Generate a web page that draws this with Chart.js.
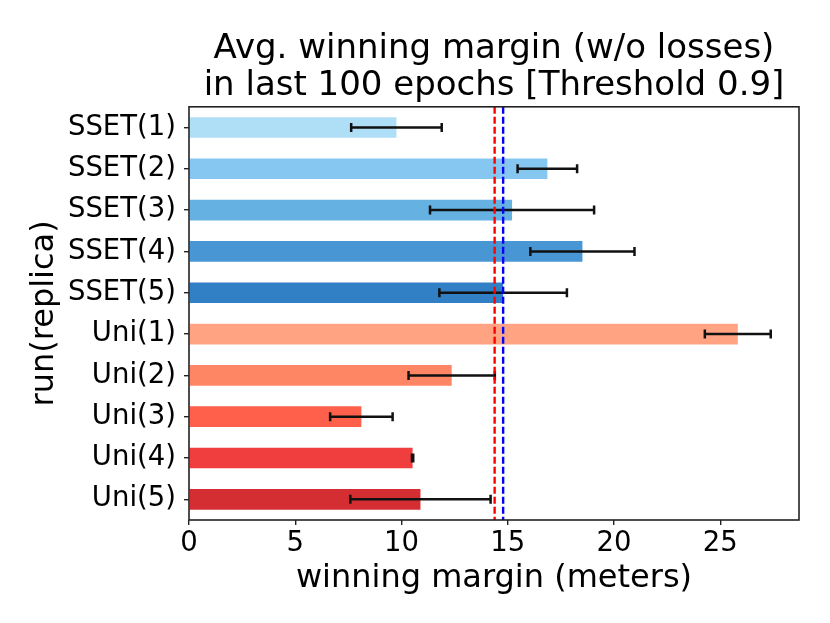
<!DOCTYPE html>
<html>
<head>
<meta charset="utf-8">
<script src="https://cdn.jsdelivr.net/npm/chart.js@4"></script>
<style>
  html, body { margin: 0; padding: 0; background: #fff; }
  #wrap { width: 830px; height: 623px; }
</style>
</head>
<body>
<div id="wrap"><canvas id="chart"></canvas></div>
<script>
// runs (top to bottom)
const runs = ['SSET(1)', 'SSET(2)', 'SSET(3)', 'SSET(4)', 'SSET(5)',
              'Uni(1)', 'Uni(2)', 'Uni(3)', 'Uni(4)', 'Uni(5)'];
// average winning margin and its error
const margins = [9.76, 16.86, 15.2, 18.51, 14.78, 25.82, 12.36, 8.11, 10.52, 10.89];
const errors = [2.13, 1.4, 3.86, 2.45, 3.0, 1.55, 2.03, 1.47, 0.03, 3.3];
const barColors = ['#aedff7', '#85c7f0', '#65b1e2', '#4896d4', '#317fc5',
                   '#ffa383', '#ff8664', '#ff604b', '#f03e3e', '#d52e32'];
// vertical reference lines
const refLines = [
  { value: 14.38, color: '#ff0000' },
  { value: 14.78, color: '#0000ff' }
];
const xTicks = [0, 5, 10, 15, 20, 25];
const xMax = 28.7;

const FONT = "'DejaVu Sans', sans-serif";

// error bars + dashed lines + frame
const overlay = {
  id: 'overlay',
  afterDatasetsDraw(chart) {
    const { ctx, chartArea } = chart;
    const x = chart.scales.x;
    const y = chart.scales.y;

    ctx.save();
    ctx.strokeStyle = '#111';
    ctx.lineWidth = 2.5;
    margins.forEach((m, i) => {
      const py = y.getPixelForValue(i);
      const x1 = x.getPixelForValue(m - errors[i]);
      const x2 = x.getPixelForValue(m + errors[i]);
      ctx.beginPath();
      ctx.moveTo(x1, py);
      ctx.lineTo(x2, py);
      ctx.moveTo(x1, py - 4.5);
      ctx.lineTo(x1, py + 4.5);
      ctx.moveTo(x2, py - 4.5);
      ctx.lineTo(x2, py + 4.5);
      ctx.stroke();
    });

    ctx.lineWidth = 2.4;
    ctx.setLineDash([7, 3]);
    refLines.forEach(l => {
      const px = x.getPixelForValue(l.value);
      ctx.strokeStyle = l.color;
      ctx.beginPath();
      ctx.moveTo(px, chartArea.top);
      ctx.lineTo(px, chartArea.bottom);
      ctx.stroke();
    });
    ctx.setLineDash([]);

    ctx.strokeStyle = '#222';
    ctx.lineWidth = 1.6;
    ctx.strokeRect(chartArea.left, chartArea.top,
                   chartArea.right - chartArea.left, chartArea.bottom - chartArea.top);
    ctx.restore();
  }
};

new Chart(document.getElementById('chart'), {
  type: 'bar',
  data: {
    labels: runs,
    datasets: [{
      data: margins,
      backgroundColor: barColors,
      borderWidth: 0,
      barPercentage: 1,
      categoryPercentage: 0.5
    }]
  },
  options: {
    indexAxis: 'y',
    responsive: true,
    maintainAspectRatio: false,
    animation: false,
    devicePixelRatio: 1,
    layout: { padding: { top: 30, right: 31, bottom: 0, left: 0 } },
    plugins: {
      legend: { display: false },
      tooltip: { enabled: false },
      title: {
        display: true,
        fullSize: false,
        text: ['Avg. winning margin (w/o losses)', 'in last 100 epochs [Threshold 0.9]'],
        color: '#000',
        font: { family: FONT, size: 34, weight: 'normal', lineHeight: 1.1 },
        padding: { top: 0, bottom: 2 }
      }
    },
    scales: {
      x: {
        min: 0,
        max: xMax,
        afterBuildTicks: scale => { scale.ticks = xTicks.map(v => ({ value: v })); },
        afterFit: scale => { scale.height = 103; },
        grid: { drawOnChartArea: false, drawTicks: true, tickLength: 5, color: '#222', lineWidth: 1.4 },
        border: { display: false },
        ticks: { color: '#000', padding: 2, font: { family: FONT, size: 27.5 } },
        title: {
          display: true,
          text: 'winning margin (meters)',
          color: '#000',
          font: { family: FONT, size: 32 },
          padding: { top: 0, bottom: 25 }
        }
      },
      y: {
        afterFit: scale => { scale.width = 189; },
        grid: { offset: false, drawOnChartArea: false, drawTicks: true, tickLength: 5, color: '#222', lineWidth: 1.4 },
        border: { display: false },
        ticks: { color: '#000', padding: 8, font: { family: FONT, size: 27.5 } },
        title: {
          display: true,
          text: 'run(replica)',
          color: '#000',
          font: { family: FONT, size: 32 },
          padding: { top: 25, bottom: 0 }
        }
      }
    }
  },
  plugins: [overlay]
});
</script>
</body>
</html>
